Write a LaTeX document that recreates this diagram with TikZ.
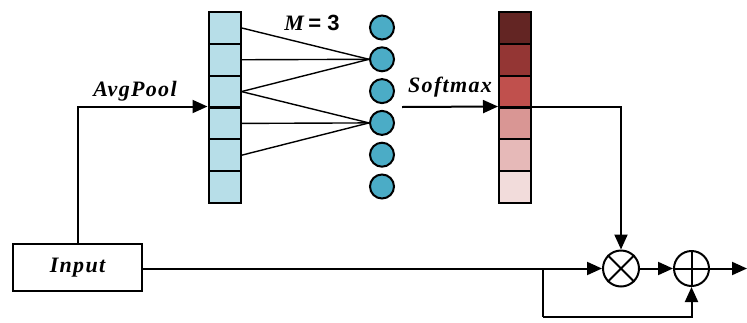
\documentclass[tikz,border=0pt]{standalone}
\usepackage{fontspec}
\setmainfont{Liberation Serif}
\newfontfamily\lbl[LetterSpace=6, UprightFont={* Bold Italic}]{Liberation Serif}
\newfontfamily\lsans{Liberation Sans}
\usetikzlibrary{arrows.meta}
\definecolor{cellblue}{HTML}{B7DEE8}
\definecolor{dotblue}{HTML}{4BACC6}
\definecolor{ra}{HTML}{632523}
\definecolor{rb}{HTML}{943634}
\definecolor{rc}{HTML}{C0504D}
\definecolor{rd}{HTML}{D99694}
\definecolor{re}{HTML}{E6B9B8}
\definecolor{rf}{HTML}{F2DCDB}
\tikzset{
  cell/.style={draw, line width=2pt, minimum width=32pt, minimum height=31.8pt, inner sep=0pt},
  dot/.style={draw, circle, fill=dotblue, line width=2pt, minimum size=24pt, inner sep=0pt},
  op/.style={draw, circle, line width=2pt, minimum size=36pt, inner sep=0pt},
  arr/.style={line width=2pt, -{Triangle[length=15pt,width=13pt]}},
  fan/.style={line width=1.4pt},
  lab/.style={font=\fontsize{22}{26}\selectfont\lbl, inner sep=0pt, anchor=base},
}
\begin{document}
\begin{tikzpicture}[x=1pt,y=-1pt]
\useasboundingbox (0,0) rectangle (747,322);
% blue column
\foreach \i in {1,...,6} {
  \node[cell, fill=cellblue] (b\i) at (224.5, {12+31.83*(\i-0.5)}) {};
  \node[dot] (c\i) at (382, {27.5+31.8*(\i-1)}) {};
}
% red column
\node[cell, fill=ra] (r1) at (515, {12+31.83*0.5}) {};
\node[cell, fill=rb] (r2) at (515, {12+31.83*1.5}) {};
\node[cell, fill=rc] (r3) at (515, {12+31.83*2.5}) {};
\node[cell, fill=rd] (r4) at (515, {12+31.83*3.5}) {};
\node[cell, fill=re] (r5) at (515, {12+31.83*4.5}) {};
\node[cell, fill=rf] (r6) at (515, {12+31.83*5.5}) {};
% fan lines
\draw[fan] (b1.east) -- (c2.west);
\draw[fan] (b2.east) -- (c2.west);
\draw[fan] (b3.east) -- (c2.west);
\draw[fan] (b3.east) -- (c4.west);
\draw[fan] (b4.east) -- (c4.west);
\draw[fan] (b5.east) -- (c4.west);
% labels
\node[inner sep=0pt, anchor=base, font=\fontsize{22}{26}\selectfont] (m3) at (312,30) {\textbf{\textit{M}}\,{\lsans\bfseries = 3}};
\node[lab] (avg) at (135,96) {AvgPool};
\node[lab] (soft) at (450,92) {Softmax};
% input box
\node[draw, line width=2pt, minimum width=129pt, minimum height=47pt, inner sep=0pt,
      font=\fontsize{22}{26}\selectfont\lbl] (inp) at (77.5,267.5) {Input};
% operators
\node[op] (mul) at (621,268.5) {};
\draw[line width=2pt] (mul.north west) -- (mul.south east) (mul.north east) -- (mul.south west);
\node[op, minimum size=35pt] (plus) at (691.5,268.5) {};
\draw[line width=2pt] (plus.north) -- (plus.south) (plus.west) -- (plus.east);
% coordinates
\coordinate (sa) at (402,107);
\coordinate (br) at (543,268.5);
\coordinate (bl) at (543,317);
\coordinate (out) at (747,268.5);
% connectors
\draw[arr] (inp.north) |- (b4.north west);
\draw[arr] (sa) -- (r4.north west);
\draw[arr] (r4.north east) -| (mul.north);
\draw[arr] (inp.east |- mul.west) -- (mul.west);
\draw[line width=2pt] (br) -- (bl);
\draw[arr] (bl) -| (plus.south);
\draw[arr] (mul.east) -- (plus.west);
\draw[arr] (plus.east) -- (out);
\end{tikzpicture}
\end{document}
